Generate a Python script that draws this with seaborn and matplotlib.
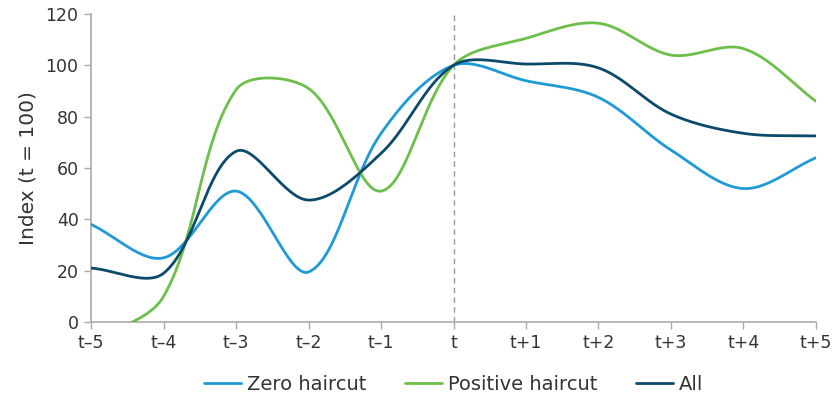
import numpy as np
import pandas as pd
import matplotlib
matplotlib.use("Agg")
import matplotlib.pyplot as plt
import seaborn as sns

periods = ["t\u20135", "t\u20134", "t\u20133", "t\u20132", "t\u20131", "t",
           "t+1", "t+2", "t+3", "t+4", "t+5"]
zero_haircut = [38, 25, 51, 19.5, 73.5, 100, 94, 87.5, 67, 52, 64]
positive_haircut = [-8, 10, 90.5, 91, 51, 100, 110.5, 116.4, 104, 106.5, 86]
all_banks = [21, 19, 66.5, 47.5, 65.7, 100, 100.5, 99, 81, 73.5, 72.5]

series_names = ["Zero haircut", "Positive haircut", "All"]
series_values = [zero_haircut, positive_haircut, all_banks]
colors = ["#1E9AD6", "#6CBF4A", "#0B4A6B"]

# approximate pixel scales of the axes (for chord-weighted smoothing)
SX, SY = 72.5, 308.0 / 120.0


def smooth_curve(y, n=60, k=1.0 / 3.0):
    """Chord-weighted Catmull-Rom Bezier smoothing (office-style smoothed line)."""
    y = np.asarray(y, dtype=float)
    x = np.arange(len(y), dtype=float)
    P = np.column_stack([x * SX, y * SY])
    N = len(P)
    chords = np.hypot(*(np.diff(P, axis=0).T))
    c_out, c_in = [], []
    for i in range(N):
        a = P[max(i - 1, 0)]
        b = P[min(i + 1, N - 1)]
        T = b - a
        ci = chords[i - 1] if i > 0 else 0.0
        co = chords[i] if i < N - 1 else 0.0
        s = ci + co
        c_out.append(P[i] + T * k * (co / s))
        c_in.append(P[i] - T * k * (ci / s))
    xs, ys = [], []
    for i in range(N - 1):
        p1, p2 = P[i], P[i + 1]
        c1, c2 = c_out[i], c_in[i + 1]
        t = np.linspace(0, 1, n, endpoint=(i == N - 2))[:, None]
        pts = ((1 - t) ** 3) * p1 + 3 * ((1 - t) ** 2) * t * c1 \
            + 3 * (1 - t) * t ** 2 * c2 + t ** 3 * p2
        xs.append(pts[:, 0] / SX)
        ys.append(pts[:, 1] / SY)
    return np.concatenate(xs), np.concatenate(ys)


frames = []
for name, vals in zip(series_names, series_values):
    xs, ys = smooth_curve(vals)
    frames.append(pd.DataFrame({"x": xs, "y": ys, "Series": name}))
df = pd.concat(frames, ignore_index=True)

sns.set_theme(style="white")
plt.rcParams["font.family"] = ["DejaVu Sans"]

fig = plt.figure(figsize=(8.36, 4.0), dpi=100)
ax = fig.add_axes([0.109, 0.195, 0.867, 0.77])

ax.axvline(5, color="#999999", linestyle=(0, (4, 3)), linewidth=1.0, zorder=1)

sns.lineplot(data=df, x="x", y="y", hue="Series", hue_order=series_names,
             palette=colors, sort=False, linewidth=2.0, ax=ax, zorder=3)

ax.set_xlim(0, 10)
ax.set_ylim(0, 120)
ax.set_xticks(range(len(periods)))
ax.set_xticklabels(periods)
ax.set_yticks(range(0, 121, 20))
ax.set_xlabel("")
ax.set_ylabel("Index (t = 100)", fontsize=14.5, color="#333333", labelpad=6)

for s in ["top", "right"]:
    ax.spines[s].set_visible(False)
for s in ["left", "bottom"]:
    ax.spines[s].set_color("#AAAAAA")
    ax.spines[s].set_linewidth(1.2)
ax.tick_params(axis="both", which="both", length=5, width=1, color="#AAAAAA",
               labelsize=12.5, labelcolor="#333333", direction="out",
               bottom=True, left=True, pad=4)

handles, labels = ax.get_legend_handles_labels()
ax.legend(handles, labels, loc="upper center", bbox_to_anchor=(0.5, -0.115),
          ncol=3, frameon=False, fontsize=14, handlelength=1.9,
          handletextpad=0.3, columnspacing=2.0, labelcolor="#333333")

fig.savefig("out.png", dpi=100)
